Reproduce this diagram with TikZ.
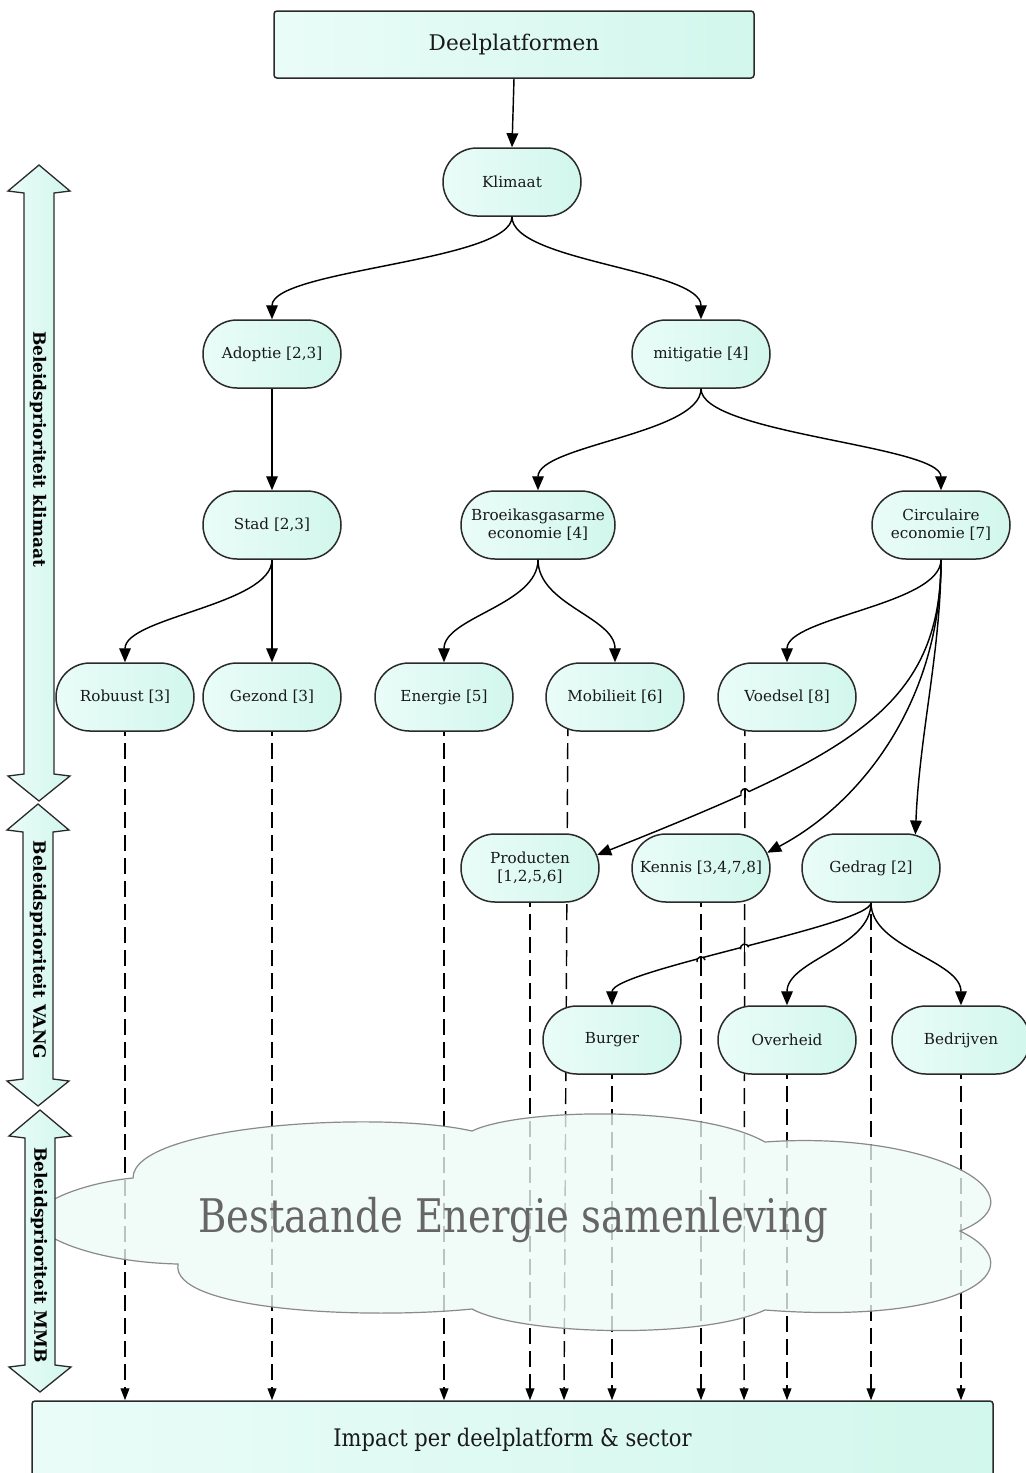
\documentclass[tikz,border=0pt]{standalone}
\usepackage{fontspec}
\setmainfont{DejaVu Serif}
\usetikzlibrary{shapes.misc,arrows.meta,calc,intersections}
\pgfdeclarelayer{back}
\pgfdeclarelayer{mid}
\pgfsetlayers{back,mid,main}
\definecolor{mintA}{HTML}{EAFCF8}
\definecolor{mintB}{HTML}{D2F7EC}
\definecolor{edgec}{HTML}{2A2A2A}
\definecolor{cloudfill}{HTML}{EEFAF7}
\definecolor{cloudline}{HTML}{8A8A8A}
\definecolor{cloudtext}{HTML}{666666}
\tikzset{
  pill/.style={rounded rectangle, draw=edgec, line width=0.75pt, left color=mintA, right color=mintB,
    minimum width=73pt, minimum height=34pt, inner sep=2pt, text=black!90,
    font=\fontsize{7.6}{9}\selectfont, align=center},
  boxnode/.style={rectangle, rounded corners=1.5pt, draw=edgec, line width=0.75pt,
    left color=mintA, right color=mintB, text=black!90},
  edge/.style={draw=black, line width=0.72pt, -{Triangle[length=7pt,width=5.8pt]}},
  dashedge/.style={draw=black, line width=0.72pt, dash pattern=on 8pt off 3.5pt,
    -{Triangle[length=6pt,width=4.4pt]}},
  bigarrow/.style={draw=edgec, line width=0.65pt, left color=mintA, right color=mintB},
  arrowtext/.style={rotate=-90, font=\bfseries\fontsize{8.5}{10}\selectfont, text=black},
  hopline/.style={draw=black, line width=0.72pt},
}
\begin{document}
\begin{tikzpicture}[x=0.5pt,y=-0.5pt]
\useasboundingbox (0,0) rectangle (1025,1473);

% ---------- nodes ----------
\node[boxnode, minimum width=240pt, minimum height=33.5pt, font=\fontsize{10.8}{13}\selectfont] (dp) at (514,44.5) {Deelplatformen};
\node[pill] (kl) at (512,182) {Klimaat};
\node[pill] (ad) at (272,354) {Adoptie [2,3]};
\node[pill] (mi) at (701,354) {mitigatie [4]};
\node[pill] (st) at (272,525) {Stad [2,3]};
\node[pill, minimum width=81pt] (br) at (538,525) {Broeikasgasarme\\economie [4]};
\node[pill] (ci) at (941,525) {Circulaire\\economie [7]};
\node[pill] (ro) at (125,697) {Robuust [3]};
\node[pill] (gz) at (272,697) {Gezond [3]};
\node[pill] (en) at (444,697) {Energie [5]};
\node[pill] (mo) at (615,697) {Mobilieit [6]};
\node[pill] (vo) at (787,697) {Voedsel [8]};
\node[pill] (pr) at (530,868) {Producten\\{[1,2,5,6]}};
\node[pill] (ke) at (701,868) {Kennis [3,4,7,8]};
\node[pill] (gd) at (871,868) {Gedrag [2]};
\node[pill] (bu) at (612,1040) {Burger};
\node[pill] (ov) at (787,1040) {Overheid};
\node[pill] (be) at (961,1040) {Bedrijven};
\node[boxnode, minimum width=480.5pt, minimum height=39pt, font=\fontsize{10.5}{13}\selectfont] (im) at (512.5,1440) {\scalebox{1}[1.15]{Impact per deelplatform \& sector}};

% ---------- background: white page and dashed lines ----------
\begin{pgfonlayer}{back}
\fill[white] (0,0) rectangle (1025,1473);
\draw[dashedge] (ro.center) -- (ro.center |- im.north);
\draw[dashedge] (gz.center) -- (gz.center |- im.north);
\draw[dashedge] (en.center) -- (en.center |- im.north);
\draw[dashedge] ($(mo.center)+(-47,0)$) -- ($(mo.center |- im.north)+(-51,0)$);
\draw[dashedge, name path global=vod] ($(vo.center)+(-42,0)$) -- ($(vo.center |- im.north)+(-43,0)$);
\draw[dashedge] (pr.center) -- (pr.center |- im.north);
\draw[dashedge, name path global=ked] (ke.center) -- (ke.center |- im.north);
\draw[dashedge] (gd.center) -- (gd.center |- im.north);
\draw[dashedge] (bu.center) -- (bu.center |- im.north);
\draw[dashedge] (ov.center) -- (ov.center |- im.north);
\draw[dashedge] (be.center) -- (be.center |- im.north);
\end{pgfonlayer}

% ---------- cloud ----------
\begin{pgfonlayer}{mid}
\draw[draw=cloudline, line width=0.6pt, fill=cloudfill, fill opacity=0.78]
  (133,1178) .. controls (133,1125) and (380,1110) .. (472,1131)
  .. controls (520,1108) and (700,1105) .. (765,1142)
  .. controls (930,1130) and (1050,1195) .. (960,1231)
  .. controls (1040,1270) and (960,1325) .. (765,1310)
  .. controls (700,1340) and (520,1335) .. (472,1309)
  .. controls (360,1320) and (170,1310) .. (178,1264)
  .. controls (90,1262) and (35,1235) .. (35,1220)
  .. controls (35,1200) and (90,1182) .. (133,1178) -- cycle;
\end{pgfonlayer}
\node[text=cloudtext, font=\fontsize{19.3}{23}\selectfont] (cloudlabel) at (513,1220) {\scalebox{1}[1.2]{Bestaande Energie samenleving}};

% ---------- left double arrows ----------
\draw[bigarrow] (39,165) -- (70,191) -- (54,193) -- (54,774) -- (70,776) -- (39,801) -- (8,776) -- (24,774) -- (24,193) -- (8,191) -- cycle;
\draw[bigarrow] (38,804) -- (69,830) -- (53,832) -- (53,1079) -- (69,1081) -- (38,1106) -- (7,1081) -- (23,1079) -- (23,832) -- (7,830) -- cycle;
\draw[bigarrow] (40,1110) -- (71,1136) -- (55,1138) -- (55,1365) -- (71,1367) -- (40,1392) -- (9,1367) -- (25,1365) -- (25,1138) -- (9,1136) -- cycle;
\node[arrowtext] (t1) at (38,449) {Beleidsprioriteit klimaat};
\node[arrowtext] (t2) at (38,950) {Beleidsprioriteit VANG};
\node[arrowtext] (t3) at (39,1255) {Beleidsprioriteit MMB};

% ---------- solid edges ----------
\draw[edge] (dp.south) -- (kl.north);
\draw[edge] (kl.south) .. controls +(0,45) and +(0,-50) .. (ad.north);
\draw[edge] (kl.south) .. controls +(0,45) and +(0,-50) .. (mi.north);
\draw[edge] (ad.south) -- (st.north);
\draw[edge] (mi.south) .. controls +(0,45) and +(0,-45) .. (br.north);
\draw[edge] (mi.south) .. controls +(0,45) and +(0,-45) .. (ci.north);
\draw[edge] (st.south) .. controls +(0,45) and +(0,-45) .. (ro.north);
\draw[edge] (st.south) -- (gz.north);
\draw[edge] (br.south) .. controls +(0,45) and +(0,-45) .. (en.north);
\draw[edge] (br.south) .. controls +(0,45) and +(0,-45) .. (mo.north);
\draw[edge] (ci.south) .. controls +(0,45) and +(0,-45) .. (vo.north);
\draw[edge, name path global=cipr] (ci.south) .. controls +(0,150) and +(250,-100) .. (pr.11);
\draw[edge] (ci.south) .. controls +(0,140) and +(95,-50) .. (ke.13);
\draw[edge] (ci.south) .. controls +(0,90) and +(4,-100) .. (gd.37);
\draw[edge, name path global=gdbu] (gd.south) .. controls +(0,22) and +(0,-35) .. (bu.north);
\draw[edge] (gd.south) .. controls +(0,45) and +(0,-45) .. (ov.north);
\draw[edge] (gd.south) .. controls +(0,45) and +(0,-45) .. (be.north);

% ---------- hop-overs ----------
\path[name intersections={of=cipr and vod, by=ha}];
\path[name intersections={of=gdbu and vod, by=hb}];
\path[name intersections={of=gdbu and ked, by=hc}];
\fill[white] (ha) circle (4.2);
\fill[white] (hb) circle (4.2);
\fill[white] (hc) circle (4.2);
\draw[hopline] ($(ha)+(0,-5)$) -- ($(ha)+(0,5)$);
\draw[hopline] ($(hb)+(0,-5)$) -- ($(hb)+(0,5)$);
\draw[hopline] ($(hc)+(0,-5)$) -- ($(hc)+(0,5)$);
\draw[hopline] ([shift={(158:4.2)}]ha) arc (158:338:4.2);
\draw[hopline] ([shift={(165:4.2)}]hb) arc (165:345:4.2);
\draw[hopline] ([shift={(165:4.2)}]hc) arc (165:345:4.2);
\end{tikzpicture}
\end{document}
